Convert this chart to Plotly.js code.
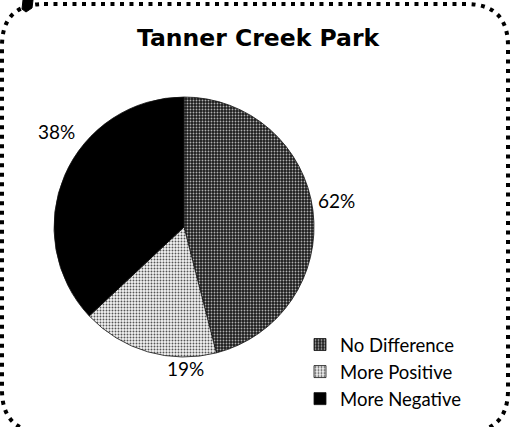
<!DOCTYPE html>
<html>
<head>
<meta charset="utf-8">
<script src="https://cdn.plot.ly/plotly-3.0.1.min.js"></script>
<style>html,body{margin:0;padding:0;background:#fff;}#chart{width:512px;height:427px;}</style>
</head>
<body>
<div id="chart"></div>
<script>
// Data
var categories = ["No Difference", "More Positive", "More Negative"];
var sliceValues = [46, 17, 37];          // slice sizes as drawn
var printedLabels = ["62%", "19%", "38%"]; // percentages as printed on the chart
var chartTitle = "Tanner Creek Park";

var W = 512, H = 427;
function px(x) { return x / W; }
function py(y) { return 1 - y / H; }

// label positions (pixels) for the printed percentages
var labelPos = [[336, 200], [185, 368], [56, 131]];

// rounded dotted frame
function framePath(l, t, r, b, rad) {
  function P(x, y) { return px(x).toFixed(4) + "," + py(y).toFixed(4); }
  return "M" + P(l + rad, t) + " L" + P(r - rad, t) +
    " Q" + P(r, t) + " " + P(r, t + rad) +
    " L" + P(r, b - rad) +
    " Q" + P(r, b) + " " + P(r - rad, b) +
    " L" + P(l + rad, b) +
    " Q" + P(l, b) + " " + P(l, b - rad) +
    " L" + P(l, t + rad) +
    " Q" + P(l, t) + " " + P(l + rad, t) + " Z";
}

var trace = {
  type: "pie",
  labels: categories,
  values: sliceValues,
  sort: false,
  direction: "clockwise",
  rotation: 0,
  textinfo: "none",
  hoverinfo: "label+percent",
  domain: {x: [px(54), px(314)], y: [py(357), py(97)]},
  marker: {
    colors: ["#2a2a2a", "#e0e0e0", "#000000"],
    line: {color: "#111", width: 0.8},
    pattern: {
      shape: [".", ".", ""],
      fgcolor: ["#b0b0b0", "#555555", "#000"],
      bgcolor: ["#1c1c1c", "#f4f4f4", "#000"],
      size: [3, 3, 4],
      solidity: [0.3, 0.32, 0.1]
    }
  },
  showlegend: true
};

var annotations = printedLabels.map(function (t, i) {
  return {
    text: t, xref: "paper", yref: "paper",
    x: px(labelPos[i][0]), y: py(labelPos[i][1]),
    xanchor: "center", yanchor: "middle", showarrow: false,
    font: {family: "Lato, 'Open Sans', sans-serif", size: 19, color: "#000"}
  };
});

var layout = {
  width: W, height: H,
  margin: {l: 0, r: 0, t: 0, b: 0},
  paper_bgcolor: "#fff",
  plot_bgcolor: "#fff",
  title: {
    text: "<b>" + chartTitle + "</b>",
    x: px(258), xanchor: "center",
    y: py(38), yanchor: "middle",
    font: {family: "'DejaVu Sans', sans-serif", size: 23.5, color: "#000"}
  },
  legend: {
    x: px(300), xanchor: "left",
    y: py(326), yanchor: "top",
    font: {family: "Lato, 'Open Sans', sans-serif", size: 18.5, color: "#000"},
    bgcolor: "rgba(0,0,0,0)",
    itemclick: false,
    tracegroupgap: 0
  },
  annotations: annotations,
  shapes: [
    {type: "path", xref: "paper", yref: "paper",
     path: framePath(2, 4, 508, 432, 42),
     line: {color: "#000", width: 4, dash: "4px,5.5px"}},
    {type: "path", xref: "paper", yref: "paper",
     path: "M" + px(23) + "," + py(0) + " L" + px(33) + "," + py(0) + " L" + px(32) + "," + py(8) +
           " L" + px(26) + "," + py(12) + " L" + px(22) + "," + py(9) + " Z",
     fillcolor: "#000", line: {color: "#000", width: 1}}
  ]
};

Plotly.newPlot("chart", [trace], layout, {displayModeBar: false, staticPlot: true});
</script>
</body>
</html>
